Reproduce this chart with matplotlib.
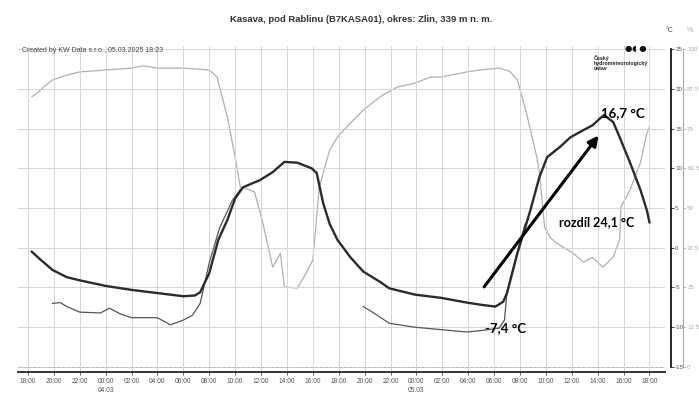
import matplotlib.pyplot as plt
import numpy as np

plt.rcParams['font.family'] = ['Liberation Sans', 'DejaVu Sans']

# hours since 03.03 00:00
t_air = [18.3, 18.9, 19.9, 21.0, 22.0, 24.0, 26.0, 28.0, 30.0, 30.9, 31.3, 32.0, 32.7,
         33.4, 34.0, 34.6, 35.9, 36.9, 37.8, 38.8, 39.9, 40.3, 40.8, 41.3, 41.9, 42.9,
         43.9, 45.2, 45.9, 47.9, 49.9, 51.9, 53.1, 54.1, 54.7, 55.0, 55.8, 56.8, 57.5,
         58.1, 59.1, 59.9, 60.9, 61.6, 62.2, 62.5, 63.2, 63.7, 64.5, 65.3, 65.8, 66.0]
temp_air = [-0.5, -1.4, -2.8, -3.7, -4.1, -4.8, -5.3, -5.7, -6.1, -6.0, -5.6, -3.2, 1.0,
            3.5, 6.2, 7.6, 8.5, 9.5, 10.8, 10.7, 10.0, 9.4, 5.6, 3.0, 1.0, -1.2,
            -3.0, -4.3, -5.1, -5.9, -6.3, -6.9, -7.2, -7.4, -6.8, -5.7, -0.7, 4.7, 8.9,
            11.4, 12.7, 13.9, 14.8, 15.4, 16.3, 16.7, 15.8, 13.9, 10.7, 7.3, 4.7, 3.2]

t_ground1 = [19.9, 20.5, 21.0, 22.0, 23.6, 24.3, 25.1, 26.0, 28.0, 29.0, 30.0, 30.7,
             31.3, 32.0, 32.8, 33.8, 34.4]
temp_ground1 = [-7.0, -6.9, -7.4, -8.1, -8.2, -7.6, -8.3, -8.8, -8.8, -9.7, -9.1, -8.5,
                -7.0, -1.9, 2.5, 6.0, 7.3]
t_ground2 = [43.9, 44.8, 45.9, 47.9, 49.9, 51.9, 53.1, 54.4, 54.8, 55.0, 55.8, 56.4]
temp_ground2 = [-7.4, -8.3, -9.5, -10.0, -10.3, -10.6, -10.4, -10.1, -9.1, -5.5, -0.5, 3.0]

t_hum = [18.3, 18.7, 19.2, 19.9, 21.0, 22.0, 24.0, 26.0, 26.9, 28.0, 30.0, 32.0, 32.6,
         33.4, 34.0, 34.4, 35.1, 35.5, 36.1, 36.9, 37.5, 37.8, 38.8, 39.5, 40.0, 40.5,
         41.3, 41.9, 42.9, 43.9, 45.2, 46.5, 47.9, 49.1, 49.9, 51.9, 53.1, 54.4, 55.2,
         55.8, 56.5, 57.3, 57.5, 57.9, 58.3, 58.8, 60.1, 60.9, 61.6, 62.4, 63.2, 63.7,
         63.8, 64.5, 65.3, 65.8, 66.0]
humidity = [85, 86, 88, 90.3, 91.8, 92.8, 93.4, 94.0, 94.7, 94.0, 94.0, 93.4, 91.2,
            78.6, 66, 56.6, 55.7, 55.0, 46, 31.4, 35.8, 25.2, 24.8, 29.6, 33.6, 56.6,
            68.2, 72.3, 76.7, 80.8, 85, 88, 89.3, 91.2, 91.2, 92.8, 93.5, 94.0, 93.0,
            90.3, 79.9, 66, 61, 44, 40.9, 39, 35.8, 33, 34.5, 31.4, 34.6, 40,
            50.3, 55.7, 64.2, 73.6, 75.5]

x_ticks = list(range(18, 67, 2))
x_labels = []
for h in x_ticks:
    lab = '%02d:00' % (h % 24)
    if h == 24:
        lab += '\n04.03'
    elif h == 48:
        lab += '\n05.03'
    x_labels.append(lab)
t_ticks = [25, 20, 15, 10, 5, 0, -5, -10, -15]
h_ticks = [100, 87.5, 75, 62.5, 50, 37.5, 25, 12.5, 0]

fig = plt.figure(figsize=(6.99, 3.94), dpi=100)
W, H = 699, 394
ax = fig.add_axes([18 / W, 1 - 372 / H, 647 / W, 326 / H])

t_lo, t_hi = -15.63, 25.38
ax.set_ylim(t_lo, t_hi)
ax.set_xlim(17.23, 67.2)

# humidity on its own scale (0..100 % matches -15..25 °C)
axh = ax.twinx()
axh.set_ylim((t_lo + 15) * 2.5, (t_hi + 15) * 2.5)
axh.plot(t_hum, humidity, color='#b0b0b0', lw=0.9, zorder=2)
for s in ['top', 'left', 'bottom']:
    axh.spines[s].set_visible(False)
axh.spines['right'].set_position(('axes', 665 / 647))
axh.spines['right'].set_bounds(0, 100)
axh.spines['right'].set_color('#aaaaaa')
axh.spines['right'].set_linewidth(0.8)
axh.set_yticks(h_ticks)
axh.set_yticklabels(['100', '87.5', '75', '62.5', '50', '37.5', '25', '12.5', '0'])
axh.tick_params(axis='y', labelsize=4.5, labelcolor='#aaaaaa', color='#aaaaaa',
                length=2, width=0.5, pad=1)

ax.set_xticks(x_ticks)
ax.set_xticklabels(x_labels, fontsize=4.8, color='#555555', linespacing=1.3, va='top')
ax.tick_params(axis='x', length=2, width=0.6, color='#444444', pad=2.5)
ax.set_yticks(t_ticks)
ax.grid(True, color='#d6d6d6', lw=0.7)
ax.set_axisbelow(True)

for s in ['top', 'left']:
    ax.spines[s].set_visible(False)
ax.spines['bottom'].set_color('#333333')
ax.spines['bottom'].set_linewidth(1.4)
ax.yaxis.tick_right()
ax.spines['right'].set_position(('axes', 653 / 647))
ax.spines['right'].set_bounds(-15, 25)
ax.spines['right'].set_linewidth(1.2)
ax.tick_params(axis='y', labelsize=4.5, labelcolor='#555555', length=2, width=0.5, pad=1)
ax.set_yticklabels([str(v) for v in t_ticks])
ax.axhline(-15, color='#bbbbbb', lw=0.7, ls=(0, (3, 2)), zorder=1)

ax.plot(t_ground1, temp_ground1, color='#555555', lw=0.9, zorder=3)
ax.plot(t_ground2, temp_ground2, color='#555555', lw=0.9, zorder=3)
ax.plot(t_air, temp_air, color='#2b2b2b', lw=1.7, zorder=4)
ax.set_zorder(axh.get_zorder() + 1)
ax.patch.set_visible(False)

# annotations
ax.annotate('', xy=(62.2, 14.4), xytext=(53.1, -5.2),
            arrowprops=dict(arrowstyle='-|>,head_length=0.6,head_width=0.3',
                            color='black', lw=2.2), zorder=6)
ax.text(63.95, 17.0, '16,7 °C', fontsize=9.5, fontweight='bold', family='Lato',
        ha='center', va='center', zorder=7)
ax.text(61.9, 3.2, 'rozdíl 24,1 °C', fontsize=9, fontweight='bold', family='Lato',
        ha='center', va='center', zorder=7)
ax.text(54.9, -10.1, '-7,4 °C', fontsize=9.5, fontweight='bold', family='Lato',
        ha='center', va='center', zorder=7)

fig.text(361 / W, 1 - 19 / H, 'Kasava, pod Rablinu (B7KASA01), okres: Zlin, 339 m n. m.',
         fontsize=6.8, fontweight='bold', color='#333333', ha='center', va='center')
fig.text(22 / W, 1 - 51 / H, 'Created by KW Data s.r.o., 05.03.2025 18:23',
         fontsize=5, color='#444444', ha='left', va='center')
fig.text(670 / W, 1 - 31 / H, '°C', fontsize=5, color='#555555', ha='center', va='center')
fig.text(690 / W, 1 - 31 / H, '%', fontsize=5, color='#aaaaaa', ha='center', va='center')
fig.text(594 / W, 1 - 63 / H, 'Český\nhydrometeorologický\nústav', fontsize=3.8,
         fontweight='bold', color='#222222', ha='left', va='center', linespacing=1.0)
fig.text(636 / W, 1 - 49 / H, '●◖ ●', fontsize=6, color='#111111', ha='center',
         va='center', family='DejaVu Sans')

fig.savefig('out.png', dpi=100)
